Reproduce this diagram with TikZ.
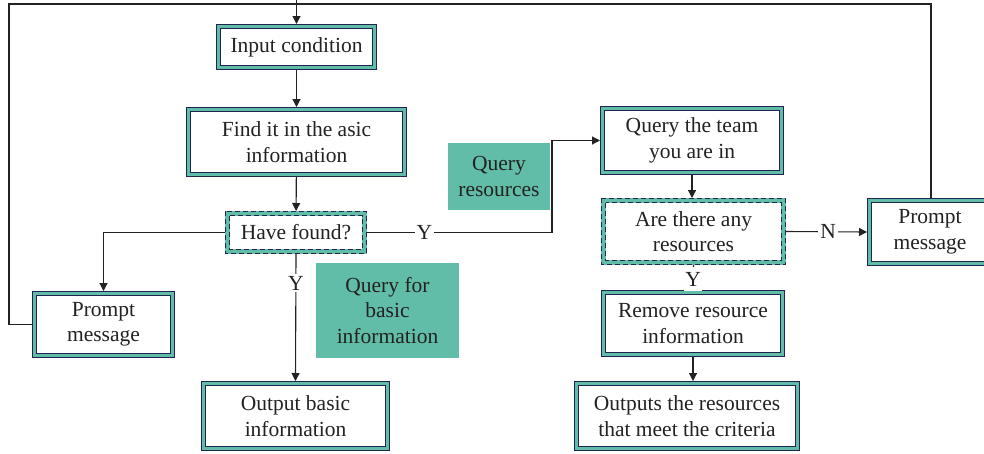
\documentclass[tikz,border=0pt]{standalone}
\usepackage{fontspec}
\setmainfont{Liberation Serif}
\usetikzlibrary{arrows.meta}
\definecolor{navy}{HTML}{1E2650}
\definecolor{tealc}{HTML}{62BDA8}
\definecolor{ink}{HTML}{222222}
\tikzset{
  base/.style={inner sep=0pt, align=center, text=ink, font=\fontsize{21.5}{25.5}\selectfont},
  box/.style={base, draw=navy, double=tealc, double distance=3.4pt, line width=0.8pt, fill=white, outer sep=2.5pt},
  dbox/.style={base, draw=tealc, line width=5pt, fill=white, outer sep=2.5pt},
  tbox/.style={base, fill=tealc},
  conn/.style={draw=ink, line width=1.1pt},
  arr/.style={conn, -{Triangle[length=8pt,width=8pt]}},
  lbl/.style={fill=white, inner sep=2pt, text=ink, font=\fontsize{21.5}{25.5}\selectfont},
}
\begin{document}
\begin{tikzpicture}[x=1pt,y=-1pt]
\clip (0,0) rectangle (984,453);
\fill[white] (0,0) rectangle (984,453);
% nodes
\node[box, minimum width=156pt, minimum height=41pt] (inp) at (296.5,47) {Input condition};
\node[box, minimum width=216pt, minimum height=65pt] (find) at (296.5,142) {Find it in the asic\\information};
\node[dbox, minimum width=137pt, minimum height=38pt] (hf) at (296,232.5) {Have found?};
\node[box, minimum width=138pt, minimum height=62pt] (pl) at (103.5,324.5) {Prompt\\message};
\node[box, minimum width=184pt, minimum height=65pt] (outb) at (295.5,416) {Output basic\\information};
\node[tbox, minimum width=143pt, minimum height=95pt] (qb) at (387.5,310.5) {Query for\\basic\\information};
\node[tbox, minimum width=102pt, minimum height=67pt] (qr) at (499,176.5) {Query\\resources};
\node[box, minimum width=179pt, minimum height=64pt] (team) at (692,140.5) {Query the team\\you are in};
\node[dbox, minimum width=180pt, minimum height=62pt] (are) at (693.5,231.5) {Are there any\\resources};
\node[box, minimum width=121pt, minimum height=63pt] (pr) at (930,232) {Prompt\\message};
\node[box, minimum width=179pt, minimum height=62pt] (rem) at (693,323.5) {Remove resource\\information};
\node[box, minimum width=221pt, minimum height=65pt] (outr) at (687,416) {Outputs the resources\\that meet the criteria};
% dashed navy edges of dashed boxes
\foreach \n in {hf,are}{
  \draw[navy, line width=0.9pt, dash pattern=on 5pt off 3pt]
    ([shift={(0.4pt,-0.4pt)}]\n.north west) rectangle ([shift={(-0.4pt,0.4pt)}]\n.south east);
  \draw[navy, line width=0.9pt, dash pattern=on 5pt off 3pt]
    ([shift={(4.6pt,-4.6pt)}]\n.north west) rectangle ([shift={(-4.6pt,4.6pt)}]\n.south east);
}
% connectors
\coordinate (t0) at (296.5,-2);
\coordinate (lc) at (9,4);
\coordinate (rc) at (931,4);
\coordinate (yc) at (552,232.5);
\draw[conn] (pl.west) -| (lc) -- (rc) -- (rc |- pr.north);
\draw[arr] (t0) -- (inp.north);
\draw[arr] (inp) -- (find);
\draw[arr] (find) -- (hf);
\draw[arr] (hf.west) -| (pl.north);
\draw[arr] (hf.south) -- node[lbl, pos=0.23] {Y} (outb.north);
\draw[arr] (hf.east) -- node[lbl, pos=0.31] {Y} (yc) |- (team.west);
\draw[arr] (team.south) -- (team.south |- are.north);
\draw[arr] (are.east) -- node[lbl, pos=0.52] {N} (pr.west);
\draw[conn] (are.south) -- node[lbl, pos=0.56, minimum height=24pt, inner sep=1pt] {Y} (rem.north);
\draw[arr] (rem.south) -- (rem.south |- outr.north);
\end{tikzpicture}
\end{document}
